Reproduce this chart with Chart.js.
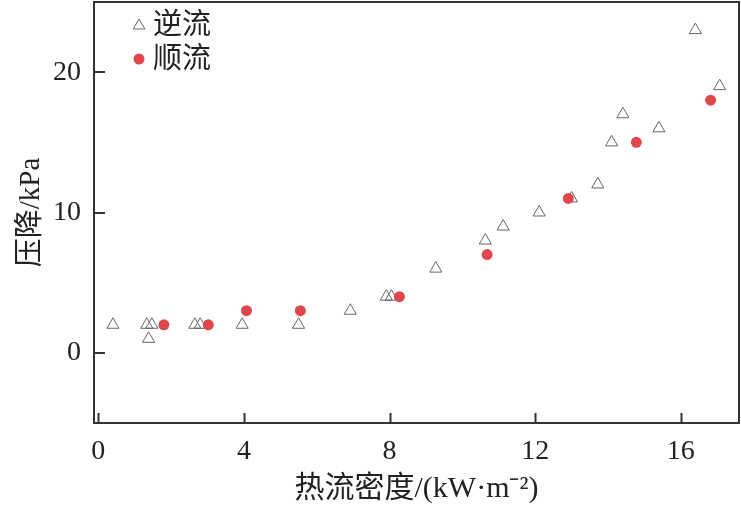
<!DOCTYPE html>
<html>
<head>
<meta charset="utf-8">
<script src="https://cdn.jsdelivr.net/npm/chart.js@4"></script>
<style>
  html, body { margin: 0; padding: 0; background: #fff; }
  #wrap { width: 741px; height: 509px; }
</style>
</head>
<body>
<div id="wrap"><canvas id="myChart" width="741" height="509"></canvas></div>
<script>
// 逆流 (counter flow)
var counterX = [0.4, 1.33, 1.38, 1.47, 2.65, 2.8, 3.95, 5.5, 6.92, 7.91, 8.05, 9.27, 10.63, 11.12, 12.11, 13.0, 13.72, 14.1, 14.41, 15.4, 16.4, 17.07]
var counterY = [2, 2, 1, 2, 2, 2, 2, 2, 3, 4, 4, 6, 8, 9, 10, 11, 12, 15, 17, 16, 23, 19]
// 顺流 (parallel flow)
var parallelX = [1.8, 3.02, 4.07, 5.55, 8.27, 10.68, 12.91, 14.78, 16.82]
var parallelY = [2, 2, 3, 3, 4, 7, 11, 15, 18]

var xTicks = [0, 4, 8, 12, 16]
var yTicks = [0, 10, 20]
var seriesNames = ['逆流', '顺流']

var serif = "'Liberation Serif', 'Noto Sans CJK SC', serif"
var axisColor = '#333'

function toPoints(xs, ys) {
    var pts = []
    for (var i = 0; i < xs.length; i++) {
        pts.push({ x: xs[i], y: ys[i] })
    }
    return pts
}

// markers may sit on the frame, don't let them push the plot area in
Chart.registry.getController('scatter').prototype.getMaxOverflow = function () { return 0 }

// box + inward ticks + legend
var framePlugin = {
    id: 'frame',
    afterDatasetsDraw: function (chart) {
        var ctx = chart.ctx
        var a = chart.chartArea
        var xs = chart.scales.x
        var ys = chart.scales.y
        ctx.save()
        ctx.strokeStyle = axisColor
        ctx.lineWidth = 2
        ctx.strokeRect(a.left, a.top, a.right - a.left, a.bottom - a.top)
        ctx.beginPath()
        xTicks.forEach(function (v) {
            var px = Math.round(xs.getPixelForValue(v)) + 0.5
            ctx.moveTo(px, a.bottom)
            ctx.lineTo(px, a.bottom - 10)
        })
        yTicks.forEach(function (v) {
            var py = Math.round(ys.getPixelForValue(v))
            ctx.moveTo(a.left, py)
            ctx.lineTo(a.left + 11, py)
        })
        ctx.stroke()

        // legend
        var ds = chart.data.datasets
        ctx.font = "29px " + serif
        ctx.textBaseline = 'middle'
        var rows = [24, 58]
        for (var i = 0; i < ds.length; i++) {
            var cy = rows[i]
            if (ds[i].pointStyle === 'triangle') {
                ctx.beginPath()
                ctx.moveTo(139, cy - 5)
                ctx.lineTo(145, cy + 5)
                ctx.lineTo(133, cy + 5)
                ctx.closePath()
                ctx.lineWidth = 1
                ctx.strokeStyle = ds[i].borderColor
                ctx.stroke()
            } else {
                ctx.beginPath()
                ctx.arc(139, cy + 1, 5.5, 0, Math.PI * 2)
                ctx.fillStyle = ds[i].backgroundColor
                ctx.fill()
            }
            ctx.fillStyle = '#222'
            ctx.fillText(ds[i].label, 153, cy + 2)
        }
        ctx.restore()
    }
}

var ctx = document.getElementById('myChart').getContext('2d')
var chart = new Chart(ctx, {
    type: 'scatter',
    data: {
        datasets: [{
            label: seriesNames[0],
            data: toPoints(counterX, counterY),
            pointStyle: 'triangle',
            pointRadius: 7,
            backgroundColor: 'rgba(255,255,255,0)',
            borderColor: '#666',
            borderWidth: 1,
            order: 1
        }, {
            label: seriesNames[1],
            data: toPoints(parallelX, parallelY),
            pointStyle: 'circle',
            pointRadius: 5.5,
            backgroundColor: '#e0474c',
            borderColor: '#e0474c',
            borderWidth: 0,
            order: 0
        }]
    },
    options: {
        responsive: false,
        animation: false,
        layout: { padding: { top: 2, right: 2, left: 0, bottom: 0 } },
        plugins: {
            legend: { display: false },
            tooltip: { enabled: false }
        },
        scales: {
            x: {
                type: 'linear',
                min: -0.12,
                max: 17.6,
                afterBuildTicks: function (s) { s.ticks = xTicks.map(function (v) { return { value: v } }) },
                afterFit: function (s) {
                    s.height = 86
                    s.paddingLeft = 0
                    s.paddingRight = 0
                },
                grid: { display: false, drawTicks: false },
                border: { display: false },
                ticks: {
                    color: '#222',
                    font: { family: serif, size: 28 },
                    padding: 12
                },
                title: {
                    display: true,
                    text: '热流密度/(kW·m⁻²)',
                    color: '#222',
                    font: { family: serif, size: 30 },
                    padding: { top: 0, bottom: 2 }
                }
            },
            y: {
                type: 'linear',
                min: -5,
                max: 25,
                afterBuildTicks: function (s) { s.ticks = yTicks.map(function (v) { return { value: v } }) },
                afterFit: function (s) {
                    s.width = 94
                    s.paddingTop = 0
                    s.paddingBottom = 0
                },
                grid: { display: false, drawTicks: false },
                border: { display: false },
                ticks: {
                    color: '#222',
                    font: { family: serif, size: 28 },
                    padding: 13
                },
                title: {
                    display: true,
                    text: '压降/kPa',
                    color: '#222',
                    font: { family: serif, size: 29 },
                    padding: { top: 14, bottom: 0 }
                }
            }
        }
    },
    plugins: [framePlugin]
})
</script>
</body>
</html>
